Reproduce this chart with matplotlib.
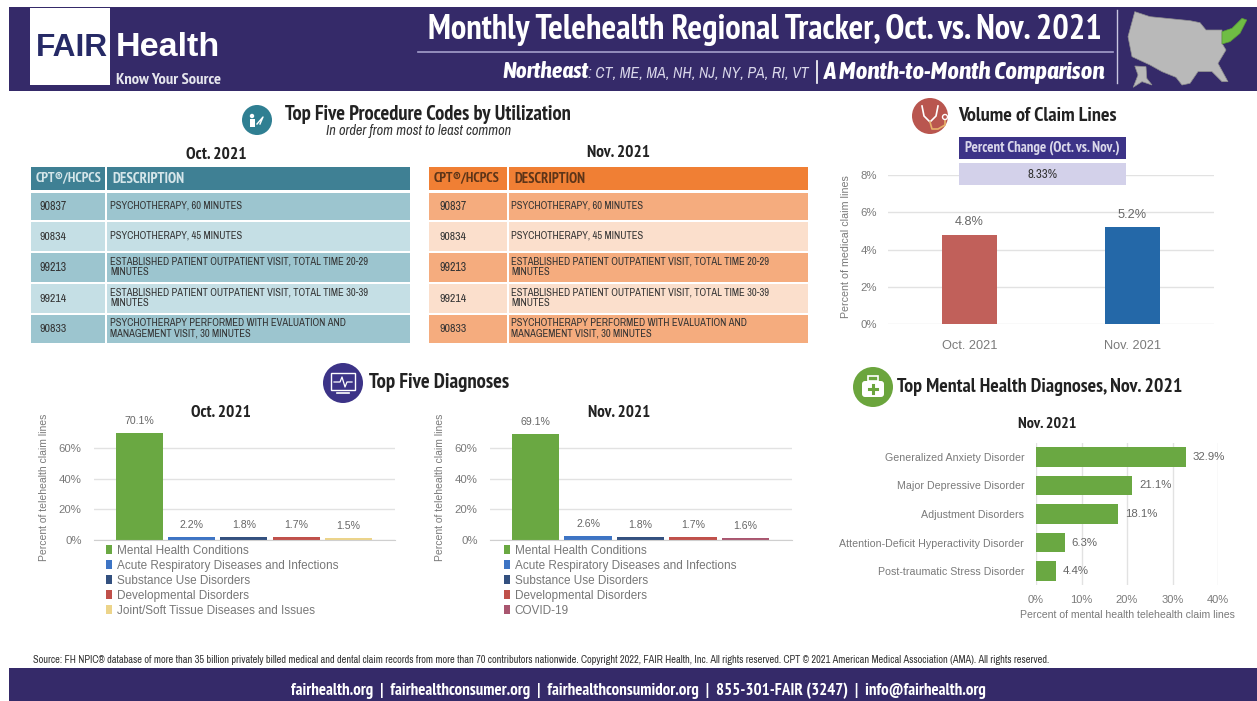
import matplotlib
matplotlib.use("Agg")
import matplotlib.pyplot as plt
from matplotlib.patches import Rectangle, Circle, Polygon, Patch, FancyBboxPatch
from matplotlib.ticker import FuncFormatter

W, H = 1257, 701
NARROW = ['Archivo Narrow', 'PT Sans Narrow', 'Liberation Sans', 'DejaVu Sans']
NARROW_B = ['PT Sans Narrow', 'Asap Condensed', 'Liberation Sans', 'DejaVu Sans']
NARROW_BI = ['Asap Condensed', 'Liberation Sans', 'DejaVu Sans']
SANS = ['Liberation Sans', 'DejaVu Sans']
plt.rcParams['font.family'] = SANS

# ---------- data ----------
procedure_codes_oct = ["90837", "90834", "99213", "99214", "90833"]
procedure_codes_nov = ["90837", "90834", "99213", "99214", "90833"]
procedure_desc = [
    "PSYCHOTHERAPY, 60 MINUTES",
    "PSYCHOTHERAPY, 45 MINUTES",
    "ESTABLISHED PATIENT OUTPATIENT VISIT, TOTAL TIME 20-29\nMINUTES",
    "ESTABLISHED PATIENT OUTPATIENT VISIT, TOTAL TIME 30-39\nMINUTES",
    "PSYCHOTHERAPY PERFORMED WITH EVALUATION AND\nMANAGEMENT VISIT, 30 MINUTES",
]
volume_months = ["Oct. 2021", "Nov. 2021"]
volume_values = [4.8, 5.2]
volume_colors = ["#c1605a", "#2468a8"]

diag_oct_names = ["Mental Health Conditions", "Acute Respiratory Diseases and Infections",
                  "Substance Use Disorders", "Developmental Disorders",
                  "Joint/Soft Tissue Diseases and Issues"]
diag_oct_values = [70.1, 2.2, 1.8, 1.7, 1.5]
diag_oct_colors = ["#6aa842", "#3d74c4", "#33507f", "#c0504a", "#ecd48a"]

diag_nov_names = ["Mental Health Conditions", "Acute Respiratory Diseases and Infections",
                  "Substance Use Disorders", "Developmental Disorders", "COVID-19"]
diag_nov_values = [69.1, 2.6, 1.8, 1.7, 1.6]
diag_nov_colors = ["#6aa842", "#3d74c4", "#33507f", "#c0504a", "#a9566f"]

mental_names = ["Generalized Anxiety Disorder", "Major Depressive Disorder", "Adjustment Disorders",
                "Attention-Deficit Hyperactivity Disorder", "Post-traumatic Stress Disorder"]
mental_values = [32.9, 21.1, 18.1, 6.3, 4.4]

GREY = "#7a7a7a"
GRID = "#e2e2e2"
NAVY = "#352a69"

fig = plt.figure(figsize=(W / 100, H / 100), dpi=100, facecolor="white")


def ax_px(x0, y0, x1, y1, **kw):
    return fig.add_axes([x0 / W, 1 - y1 / H, (x1 - x0) / W, (y1 - y0) / H], **kw)


ov = ax_px(0, 0, W, H, zorder=10)
ov.set_xlim(0, W)
ov.set_ylim(H, 0)
ov.axis("off")
ov.patch.set_alpha(0)


def rect(x0, y0, x1, y1, c, z=1):
    ov.add_patch(Rectangle((x0, y0), x1 - x0, y1 - y0, fc=c, ec="none", zorder=z))


def fit(s, x0, x1, y, size=12, ha="left", **kw):
    """Text scaled so that it spans x0..x1 in pixels."""
    t = ov.text(x0, y, s, fontsize=size, va="center", ha=ha, zorder=5, **kw)
    w = t.get_window_extent(fig.canvas.get_renderer()).width
    t.set_fontsize(size * (x1 - x0) / w)
    return t


# ---------- header and footer ----------
rect(9, 7, W, 91, NAVY)
rect(9, 668, W, 701, NAVY)
rect(30, 8, 110, 85, "white", 2)
fit("FAIR", 36, 108, 48, color="#262a66", family=SANS, weight="bold")
fit("Health", 116, 220, 48, color="white", family=SANS, weight="bold")
fit("Know Your Source", 116, 220, 80, color="#e6e6ee", family=NARROW_B, weight="bold")

fit("Monthly Telehealth Regional Tracker, Oct. vs. Nov. 2021", 428, 1102, 30,
    color="white", family=NARROW_B, weight="bold")
ov.plot([418, 1113], [52, 52], color="#a49fcb", lw=1.2, zorder=3)
ov.plot([1117, 1117], [10, 83], color="#c9c6e0", lw=1.0, zorder=3)
fit("Northeast", 502, 588, 72, color="white", family=NARROW_BI, weight="bold", style="italic")
fit(": CT, ME, MA, NH, NJ, NY, PA, RI, VT", 588, 808, 73, color="#d9d7ea", family=NARROW, style="italic")
ov.plot([817, 817], [61, 83], color="white", lw=1.2, zorder=3)
fit("A Month-to-Month Comparison", 824, 1106, 72, color="white", family=NARROW_BI, weight="bold", style="italic")


def mz(pts):
    return [(630 + x / 2.5, y / 3) for x, y in pts]


us = [(1262, 35), (1300, 50), (1400, 62), (1425, 68), (1440, 90), (1480, 90), (1480, 130), (1490, 150),
      (1470, 190), (1495, 245), (1480, 245), (1455, 215), (1420, 215), (1400, 250), (1380, 255), (1365, 232),
      (1330, 215), (1300, 195), (1255, 170), (1245, 110)]
ne = [(1480, 95), (1505, 85), (1530, 55), (1542, 60), (1525, 100), (1500, 125), (1480, 132)]
ak = [(1262, 198), (1290, 200), (1292, 235), (1305, 255), (1280, 245), (1258, 262), (1270, 225)]
ov.add_patch(Polygon(mz(us), fc="#b9b9b9", ec="#8f8f8f", lw=0.5, zorder=3))
ov.add_patch(Polygon(mz(ne), fc="#6fbd44", ec="#5a9a38", lw=0.5, zorder=4))
ov.add_patch(Polygon(mz(ak), fc="#b9b9b9", ec="#8f8f8f", lw=0.5, zorder=3))

fit("fairhealth.org  |  fairhealthconsumer.org  |  fairhealthconsumidor.org  |  855-301-FAIR (3247)  |  info@fairhealth.org",
    291, 983, 691, color="white", family=NARROW_B, weight="bold")
fit("Source: FH NPIC\u00ae database of more than 35 billion privately billed medical and dental claim records from more than "
    "70 contributors nationwide. Copyright 2022, FAIR Health, Inc. All rights reserved. CPT \u00a9 2021 American Medical "
    "Association (AMA). All rights reserved.",
    33, 1050, 660, color="#333333", family=NARROW)


# ---------- section headings and icons ----------
def icon(cx, cy, r, c):
    ov.add_patch(Circle((cx, cy), r, fc=c, ec="none", zorder=3))


icon(257, 120, 15, "#2f7f92")
ov.add_patch(Circle((252, 116), 2.2, fc="white", ec="none", zorder=4))
ov.add_patch(Rectangle((250, 119), 5, 8, fc="white", ec="none", zorder=4))
ov.plot([257, 263, 260], [124, 117, 124], color="white", lw=1, zorder=4)

icon(930, 116, 18, "#b9564f")
ov.plot([922, 924, 930, 936, 938], [106, 116, 122, 116, 106], color="white", lw=1.2, zorder=4)
ov.plot([930, 932, 938, 945, 945], [122, 129, 129, 125, 119], color="#e8b26a", lw=1.2, zorder=4)
ov.add_patch(Circle((945, 117), 2.5, fc="#b9564f", ec="white", lw=1, zorder=4))

icon(343, 383, 20, "#3c3387")
ov.add_patch(Rectangle((331, 373), 24, 17, fc="#3c3387", ec="white", lw=1, zorder=4))
ov.plot([334, 340, 342, 345, 347, 352], [382, 382, 377, 387, 382, 382], color="white", lw=0.9, zorder=5)
ov.plot([337, 349], [393, 393], color="white", lw=1.2, zorder=4)

icon(873, 387, 20, "#6ba53d")
ov.add_patch(FancyBboxPatch((862, 381), 22, 16, boxstyle="round,pad=0,rounding_size=3", fc="white", ec="none", zorder=4))
ov.add_patch(Rectangle((868, 376), 10, 5, fc="none", ec="white", lw=1.2, zorder=4))
ov.plot([873, 873], [385, 393], color="#6ba53d", lw=2.2, zorder=5)
ov.plot([869, 877], [389, 389], color="#6ba53d", lw=2.2, zorder=5)

HEAD = "#222222"
fit("Top Five Procedure Codes by Utilization", 285, 570, 114, color=HEAD, family=NARROW_B, weight="bold")
fit("In order from most to least common", 326, 512, 131, color="#333333", family=NARROW, style="italic")
fit("Volume of Claim Lines", 958, 1117, 116, color=HEAD, family=NARROW_B, weight="bold")
fit("Top Five Diagnoses", 369, 509, 382, color=HEAD, family=NARROW_B, weight="bold")
fit("Top Mental Health Diagnoses, Nov. 2021", 897, 1183, 387, color=HEAD, family=NARROW_B, weight="bold")

# ---------- tables ----------
ROW_Y = [(193, 220), (222, 251), (253, 282), (284, 313), (315, 343)]
probe = fit(procedure_desc[2].split("\n")[0], 0, 259, 0, family=NARROW, color="#333333")
DESC_SIZE = probe.get_fontsize()
probe.remove()


def table(x0, xs, x1, hc, odd, even, htc, codes, code_x, desc_x, hx0, hx1, dx0, dx1):
    rect(x0, 167, xs - 1, 190, hc)
    rect(xs + 1, 167, x1, 190, hc)
    fit("CPT\u00ae/HCPCS", hx0, hx1, 179, color=htc, family=NARROW_B, weight="bold")
    fit("DESCRIPTION", dx0, dx1, 179, color=htc, family=NARROW_B, weight="bold")
    for i, (a, b) in enumerate(ROW_Y):
        c = odd if i % 2 == 0 else even
        rect(x0, a, xs - 1, b, c)
        rect(xs + 1, a, x1, b, c)
        m = (a + b) / 2
        fit(codes[i], code_x, code_x + 27, m, color="#333333", family=NARROW)
        ov.text(desc_x, m - 1, procedure_desc[i], fontsize=DESC_SIZE, va="center", ha="left", color="#333333",
                family=NARROW, zorder=5, linespacing=1.05)


table(31, 106, 410, "#3f8094", "#9cc5cf", "#c5dfe5", "#d5e6ea", procedure_codes_oct, 40, 110, 36, 102, 112, 184)
table(429, 508, 808, "#f07f34", "#f5ac7e", "#fbdfcc", "#5c3418", procedure_codes_nov, 439, 511, 434, 500, 514, 585)
fit("Oct. 2021", 186, 247, 155, color=HEAD, family=NARROW_B, weight="bold")
fit("Nov. 2021", 587, 650, 153, color=HEAD, family=NARROW_B, weight="bold")


def style_v(ax):
    for s in ax.spines.values():
        s.set_visible(False)
    ax.grid(axis="y", color=GRID, lw=1)
    ax.set_axisbelow(True)
    ax.tick_params(length=0, colors=GREY)


pct = FuncFormatter(lambda v, _: f"{v:.0f}%")

# ---------- volume chart ----------
ax = ax_px(888, 175, 1214, 324)
ax.bar(range(2), volume_values, width=0.34, color=volume_colors)
ax.set_xlim(-0.5, 1.5)
ax.set_ylim(0, 8)
ax.set_yticks([0, 2, 4, 6, 8])
ax.yaxis.set_major_formatter(pct)
ax.set_xticks(range(2), volume_months)
style_v(ax)
ax.tick_params(axis="y", labelsize=8.2, pad=8)
ax.tick_params(axis="x", labelsize=9.2, pad=11.5)
for i, v in enumerate(volume_values):
    ax.annotate(f"{v}%", (i, v), xytext=(0, 4.5), textcoords="offset points", ha="center", va="bottom",
                fontsize=9.2, color="#666666")
ax.set_ylabel("Percent of medical claim lines", fontsize=7.7, color=GREY)
ax.yaxis.set_label_coords((851 - 888) / 326, 0.52)

rect(959, 137, 1126, 159, "#3c3387")
rect(959, 163, 1126, 185, "#d3d1ea")
fit("Percent Change (Oct. vs. Nov.)", 965, 1120, 148, color="#d9d7ea", family=NARROW_B, weight="bold")
fit("8.33%", 1028, 1058, 174, color="#333333", family=NARROW)


# ---------- diagnoses charts ----------
def diag(x0, x1, names, values, colors, title, tx0, tx1, leg_x):
    a = ax_px(x0, 432, x1, 540)
    a.bar(range(5), values, width=0.9, color=colors)
    a.set_xlim(-0.87, 4.89)
    a.set_ylim(0, 108 / 1.53)
    a.set_yticks([0, 20, 40, 60])
    a.yaxis.set_major_formatter(pct)
    a.set_xticks([])
    style_v(a)
    a.spines["bottom"].set_visible(True)
    a.spines["bottom"].set_color("#cfcfcf")
    a.tick_params(axis="y", labelsize=8.2, pad=9)
    for i, v in enumerate(values):
        a.annotate(f"{v}%", (i, v), xytext=(0, 5), textcoords="offset points", ha="center", va="bottom",
                   fontsize=7.6, color="#666666", annotation_clip=False)
    a.set_ylabel("Percent of telehealth claim lines", fontsize=7.5, color=GREY)
    a.yaxis.set_label_coords(-45 / (x1 - x0), 0.49)
    fit(title, tx0, tx1, 413, color=HEAD, family=NARROW_B, weight="bold")
    hs = [Patch(fc=c, ec="none", label=n) for c, n in zip(colors, names)]
    fig.legend(handles=hs, loc="upper left", bbox_to_anchor=(leg_x / W, 1 - 544.5 / H), frameon=False,
               fontsize=8.5, labelcolor="#777777", handlelength=0.55, handleheight=0.8, handletextpad=0.35,
               labelspacing=0.26, borderpad=0, borderaxespad=0)


diag(94, 395, diag_oct_names, diag_oct_values, diag_oct_colors, "Oct. 2021", 191, 251, 106)
diag(490, 792, diag_nov_names, diag_nov_values, diag_nov_colors, "Nov. 2021", 588, 650, 504)

# ---------- mental health chart ----------
ax = ax_px(1036, 443, 1218, 585)
ax.barh(range(5), mental_values, height=0.7, color="#6aa842")
ax.set_ylim(4.49, -0.49)
ax.set_xlim(0, 40)
ax.set_xticks([0, 10, 20, 30, 40])
ax.xaxis.set_major_formatter(pct)
ax.set_yticks(range(5), mental_names)
for s in ax.spines.values():
    s.set_visible(False)
ax.grid(axis="x", color=GRID, lw=1)
ax.set_axisbelow(True)
ax.tick_params(length=0, colors=GREY)
ax.tick_params(axis="y", labelsize=7.65, pad=8.5)
ax.tick_params(axis="x", labelsize=8, pad=7)
for lbl in ax.get_yticklabels():
    lbl.set_y(lbl.get_position()[1])
for i, v in enumerate(mental_values):
    ax.annotate(f"{v}%", (v, i), xytext=(5, 0), textcoords="offset points", ha="left", va="center",
                fontsize=8.2, color="#666666")
ax.set_xlabel("Percent of mental health telehealth claim lines", fontsize=7.6, color=GREY, labelpad=4)
fit("Nov. 2021", 1018, 1077, 424, color=HEAD, family=NARROW_B, weight="bold")

fig.savefig("out.png", dpi=100)
